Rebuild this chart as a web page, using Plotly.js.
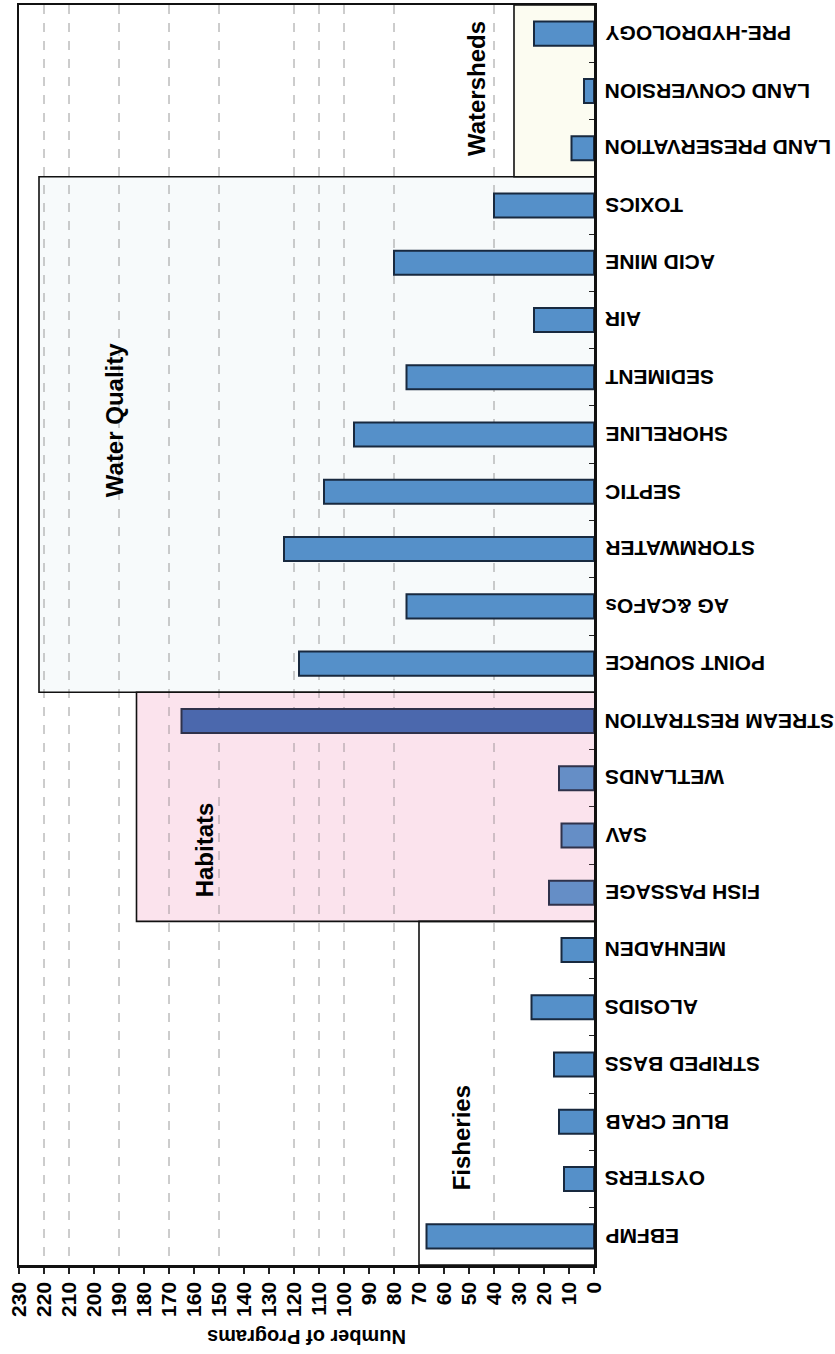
<!DOCTYPE html>
<html>
<head>
<meta charset="utf-8">
<script src="https://cdn.plot.ly/plotly-3.0.1.min.js"></script>
<style>
  html, body { margin: 0; padding: 0; background: #ffffff; }
  #chart { width: 835px; height: 1354px; }
</style>
</head>
<body>
<div id="chart"></div>
<script>
// ---- data ----
const categories = ['PRE-HYDROLOGY', 'LAND CONVERSION', 'LAND PRESERVATION',
  'TOXICS', 'ACID MINE', 'AIR', 'SEDIMENT', 'SHORELINE', 'SEPTIC', 'STORMWATER',
  'AG &CAFOs', 'POINT SOURCE', 'STREAM RESTRATION', 'WETLANDS', 'SAV',
  'FISH PASSAGE', 'MENHADEN', 'ALOSIDS', 'STRIPED BASS', 'BLUE CRAB', 'OYSTERS', 'EBFMP'];
const programs = [24, 4, 9, 40, 80, 24, 75, 96, 108, 124, 75, 118, 165, 14, 13, 18, 13, 25, 16, 14, 12, 67];

const groupNames = ['Watersheds', 'Water Quality', 'Habitats', 'Fisheries'];
const groupFirst = ['PRE-HYDROLOGY', 'TOXICS', 'STREAM RESTRATION', 'MENHADEN'];
const groupLast = ['LAND PRESERVATION', 'POINT SOURCE', 'FISH PASSAGE', 'EBFMP'];
const groupReach = [32, 222, 183, 70];          // how far each group box reaches on the value axis
const groupLabelValue = [47, 192, 156, 53];     // value-axis position of each group label
const groupLabelRow = [0.96, 6.75, 14.26, 19.28]; // category-row position of each group label

const xTickVals = [0, 10, 20, 30, 40, 50, 60, 70, 80, 90, 100, 110, 120, 130, 140, 150, 160, 170, 180, 190, 200, 210, 220, 230];
const gridVals = [40, 80, 100, 110, 120, 150, 170, 190, 210, 220]; // dashed guide lines visible in the reference
const axisTitle = 'Number of Programs';

// ---- styles ----
const FONT = 'Liberation Sans, Arial, Helvetica, sans-serif';
const barFill = '#5590c9';
const barDark = '#3866ae';
const barEdge = '#18293f';
const groupFill = ['#fcfcf1', '#f7fafb', '#fdf0f5', '#ffffff'];

const barColors = categories.map(c => c === 'STREAM RESTRATION' ? barDark : barFill);

const trace = {
  type: 'bar',
  orientation: 'h',
  x: programs,
  y: categories,
  marker: { color: barColors, line: { color: barEdge, width: 2 } },
  hoverinfo: 'x+y'
};

const idx = c => categories.indexOf(c);
const rowTop = -0.5, rowBottom = categories.length - 0.5;
const shapes = [];
// group background boxes
groupNames.forEach((g, i) => {
  shapes.push({
    type: 'rect', xref: 'x', yref: 'y', layer: 'below',
    x0: 0, x1: groupReach[i],
    y0: idx(groupFirst[i]) - 0.5, y1: idx(groupLast[i]) + 0.5,
    fillcolor: groupFill[i], line: { width: 0 }
  });
});
// dashed guide lines (drawn after the backgrounds so they show through them)
gridVals.forEach(v => {
  shapes.push({
    type: 'line', xref: 'x', yref: 'y', layer: 'below',
    x0: v, x1: v, y0: rowTop, y1: rowBottom,
    line: { color: '#9a9a9a', width: 1, dash: 'dash' }
  });
});
// pink tint of the habitats block lies over its bars
shapes.push({
  type: 'rect', xref: 'x', yref: 'y', layer: 'above',
  x0: 0, x1: groupReach[2],
  y0: idx(groupFirst[2]) - 0.5, y1: idx(groupLast[2]) + 0.5,
  fillcolor: 'rgba(240,130,175,0.11)', line: { width: 0 }
});
// group outlines
groupNames.forEach((g, i) => {
  shapes.push({
    type: 'rect', xref: 'x', yref: 'y', layer: 'above',
    x0: -1.5, x1: groupReach[i],
    y0: idx(groupFirst[i]) - 0.5, y1: idx(groupLast[i]) + 0.5,
    fillcolor: 'rgba(0,0,0,0)', line: { color: '#111', width: 1.6 }
  });
});

const annotations = [];
// category labels, upside down, right of the axis
categories.forEach(c => {
  annotations.push({
    xref: 'paper', yref: 'y', x: 1, y: c,
    xanchor: 'left', yanchor: 'middle', xshift: 9,
    text: c, textangle: 180, showarrow: false,
    font: { family: FONT, size: 21, color: '#000', weight: 'bold' }
  });
});
// group labels
groupNames.forEach((g, i) => {
  annotations.push({
    xref: 'x', yref: 'y', x: groupLabelValue[i], y: groupLabelRow[i],
    xanchor: 'center', yanchor: 'middle',
    text: g, textangle: -90, showarrow: false,
    font: { family: FONT, size: 24, color: '#000', weight: 'bold' }
  });
});
// value-axis title, upside down
annotations.push({
  xref: 'paper', yref: 'paper', x: 0.5, y: 0,
  xanchor: 'center', yanchor: 'middle', yshift: -72,
  text: axisTitle, textangle: 180, showarrow: false,
  font: { family: FONT, size: 20, color: '#000', weight: 'bold' }
});

const layout = {
  width: 835, height: 1354,
  margin: { l: 19, r: 241, t: 5, b: 89 },
  paper_bgcolor: '#ffffff',
  plot_bgcolor: '#ffffff',
  showlegend: false,
  bargap: 0.58,
  font: { family: FONT, color: '#000' },
  xaxis: {
    range: [230, 0],
    tickvals: xTickVals,
    ticktext: xTickVals.map(String),
    tickangle: -90,
    ticks: 'outside', ticklen: 6, tickwidth: 1.2, tickcolor: '#222',
    tickfont: { family: FONT, size: 21, color: '#000', weight: 'bold' },
    showgrid: false,
    zeroline: false,
    showline: true, linecolor: '#111', linewidth: 2.5, mirror: true
  },
  yaxis: {
    type: 'category',
    categoryorder: 'array', categoryarray: categories,
    range: [rowBottom, rowTop],
    side: 'right',
    showticklabels: false,
    ticks: 'inside', tickson: 'boundaries', ticklen: 5, tickcolor: '#222',
    showgrid: false, zeroline: false,
    showline: true, linecolor: '#111', linewidth: 2.5, mirror: true
  },
  shapes: shapes,
  annotations: annotations
};

Plotly.newPlot('chart', [trace], layout, { displayModeBar: false, staticPlot: true });
</script>
</body>
</html>
